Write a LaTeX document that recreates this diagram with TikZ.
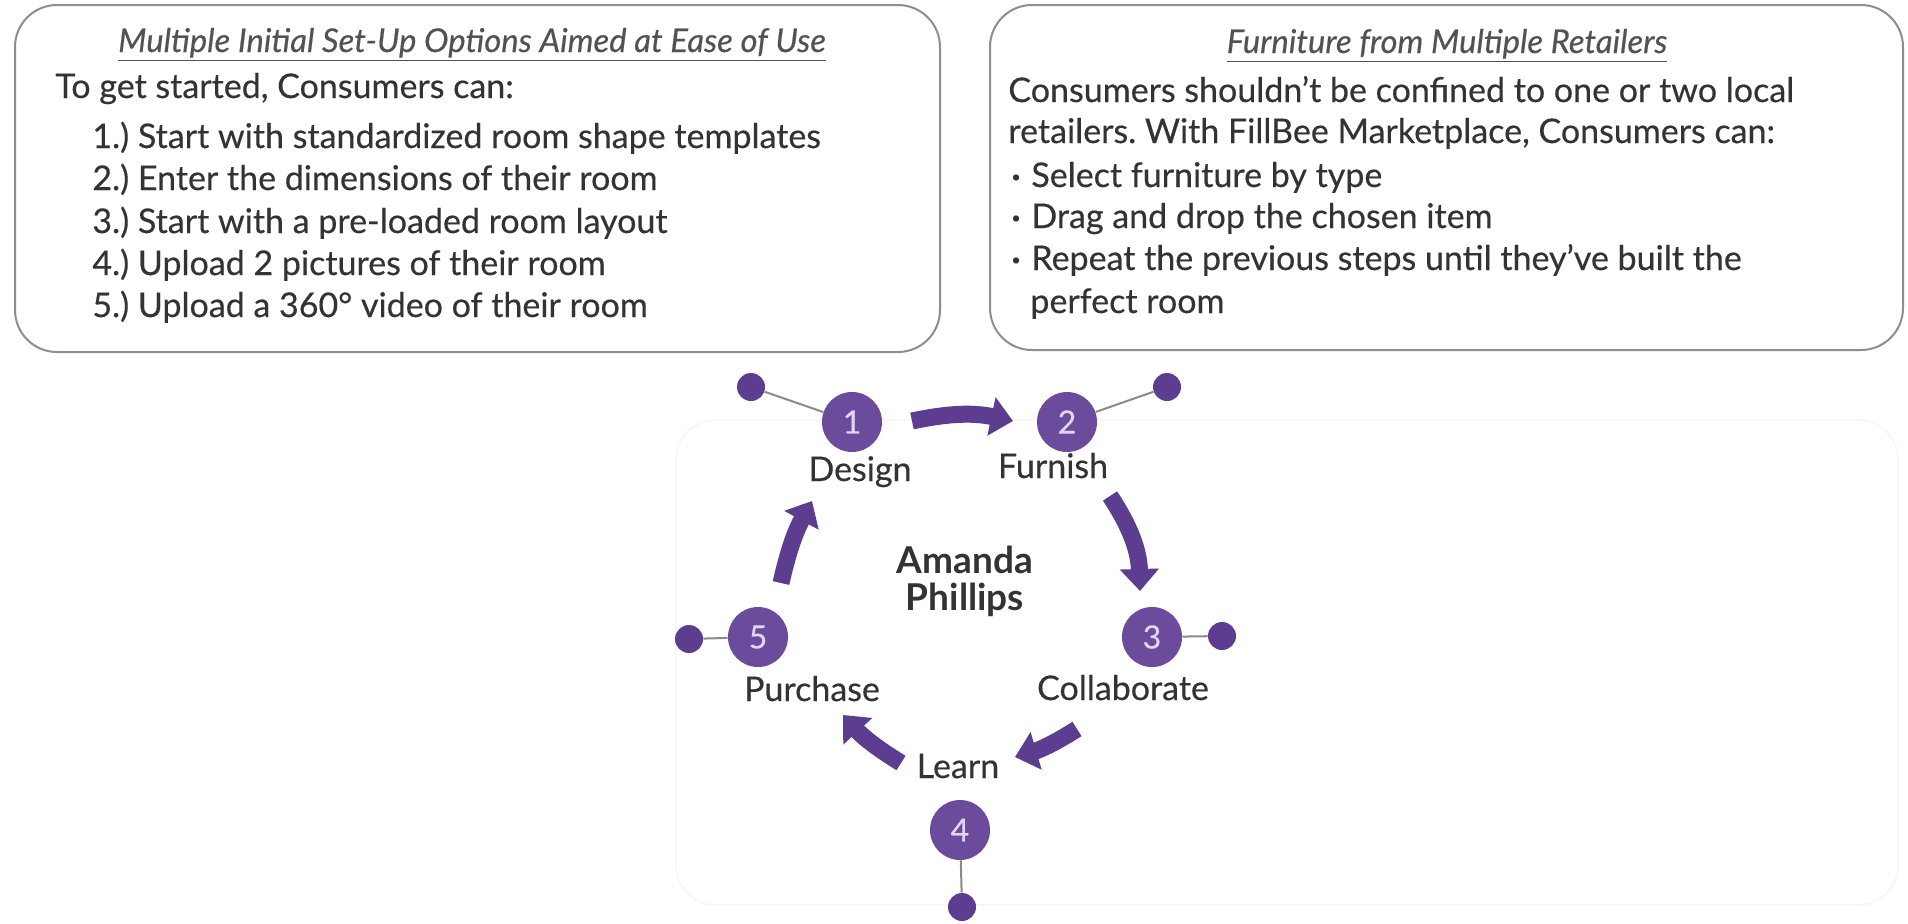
\documentclass[tikz,border=0pt]{standalone}
\usepackage{fontspec}
\usepackage{graphicx}
\setmainfont{Lato}
\newfontfamily\bodyfont[FakeBold=0.35]{Lato}
\frenchspacing
\usetikzlibrary{arrows.meta}

\definecolor{plum}{HTML}{5C3D90}
\definecolor{plumdisc}{HTML}{6A4B9C}
\definecolor{numtint}{HTML}{E2D6F6}
\definecolor{frame}{HTML}{8E8E8E}
\definecolor{ink}{HTML}{333333}
\definecolor{spokegray}{HTML}{8A8A8A}

% small raised bullet for the list items
\newcommand{\listdot}{\makebox[10pt][l]{\raisebox{0.14em}{\footnotesize•}}}

\tikzset{
  panel/.style={draw=frame, line width=1pt, rounded corners=21pt},
  bodytext/.style={anchor=base west, inner sep=0pt, text=ink,
    font=\bodyfont\fontsize{17}{19}\selectfont},
  headtext/.style={anchor=base, inner sep=0pt, text=ink!85,
    font=\bodyfont\itshape\fontsize{16.4}{18}\selectfont},
  stagedisc/.style={circle, fill=plumdisc, minimum size=30pt, inner sep=0pt,
    text=numtint, font=\bodyfont\fontsize{16}{16}\selectfont},
  satdot/.style={circle, fill=plum, minimum size=14pt, inner sep=0pt},
  spoke/.style={draw=spokegray, line width=1pt},
  stagelabel/.style={anchor=base, inner sep=0pt, text=ink,
    font=\bodyfont\fontsize{17}{19}\selectfont},
  flow/.style={draw=plum, line width=8.5pt,
    -{Triangle[width=19pt,length=11pt]}},
}

\begin{document}
\begin{tikzpicture}[x=0.5pt,y=0.5pt]
  \path[use as bounding box, fill=white] (0,0) rectangle (1908,-923);

  % faint outline around the cycle
  \draw[black!3, line width=0.8pt, rounded corners=20pt] (676,-420) rectangle (1898,-905);

  % ---- left panel: set-up options ----
  \draw[panel] (15,-5) rectangle (940,-352);
  \node[headtext] (lt) at (472,-52) {\underline{Multiple Initial Set-Up Options Aimed at Ease of Use}};
  \node[bodytext] (l0) at (55,-98)  {To get started, Consumers can:};
  \node[bodytext] (l1) at (92,-148) {1.) Start with standardized room shape templates};
  \node[bodytext] (l2) at (92,-190) {2.) Enter the dimensions of their room};
  \node[bodytext] (l3) at (92,-233) {3.) Start with a pre-loaded room layout};
  \node[bodytext] (l4) at (92,-275) {4.) Upload 2 pictures of their room};
  \node[bodytext] (l5) at (92,-317) {5.) Upload a 360° video of their room};

  % ---- right panel: retailers ----
  \draw[panel] (990,-5) rectangle (1903,-350);
  \node[headtext] (rt) at (1447,-53) {\underline{Furniture from Multiple Retailers}};
  \node[bodytext] (r0) at (1008,-102) {Consumers shouldn’t be confined to one or two local};
  \node[bodytext] (r1) at (1008,-143) {retailers. With FillBee Marketplace, Consumers can:};
  \node[bodytext] (r2) at (1011,-187) {\listdot Select furniture by type};
  \node[bodytext] (r3) at (1011,-228) {\listdot Drag and drop the chosen item};
  \node[bodytext] (r4) at (1011,-270) {\listdot Repeat the previous steps until they’ve built the};
  \node[bodytext] (r5) at (1030,-313) {perfect room};

  % ---- cycle of stages ----
  \node[stagedisc] (s1) at (852,-422)  {1};
  \node[stagedisc] (s2) at (1067,-422) {2};
  \node[stagedisc] (s3) at (1152,-637) {3};
  \node[stagedisc] (s4) at (960,-830)  {4};
  \node[stagedisc] (s5) at (758,-637)  {5};

  \node[satdot] (d1) at (751,-387)  {};
  \node[satdot] (d2) at (1167,-387) {};
  \node[satdot] (d3) at (1222,-636) {};
  \node[satdot] (d4) at (962,-907)  {};
  \node[satdot] (d5) at (689,-639)  {};

  \draw[spoke] (d1) -- (s1);
  \draw[spoke] (d2) -- (s2);
  \draw[spoke] (d3) -- (s3);
  \draw[spoke] (d4) -- (s4);
  \draw[spoke] (d5) -- (s5);

  \node[stagelabel] (n1) at (860,-481)  {Design};
  \node[stagelabel] (n2) at (1053,-478) {Furnish};
  \node[stagelabel] (n3) at (1123,-700) {Collaborate};
  \node[stagelabel] (n4) at (958,-778)  {Learn};
  \node[stagelabel] (n5) at (812,-701)  {Purchase};

  \node[anchor=base, inner sep=0pt, text=ink, align=center,
        font=\bfseries\fontsize{18.5}{18.5}\selectfont] (who) at (965,-610)
        {Amanda\\Phillips};

  % arrow ends between the stages
  \coordinate (t12) at (912,-421);
  \coordinate (h12) at (1013,-421);
  \coordinate (t23) at (1110,-496);
  \coordinate (h23) at (1140,-591);
  \coordinate (t34) at (1077,-729);
  \coordinate (h34) at (1015,-757);
  \coordinate (t45) at (901,-763);
  \coordinate (h45) at (843,-715);
  \coordinate (t51) at (781,-583);
  \coordinate (h51) at (812,-501);

  \draw[flow] (t12) to[bend left=12] (h12);
  \draw[flow] (t23) to[bend left=16] (h23);
  \draw[flow] (t34) to[bend left=8] (h34);
  \draw[flow] (t45) to[bend left=8] (h45);
  \draw[flow] (t51) to[bend left=8] (h51);
\end{tikzpicture}
\end{document}
